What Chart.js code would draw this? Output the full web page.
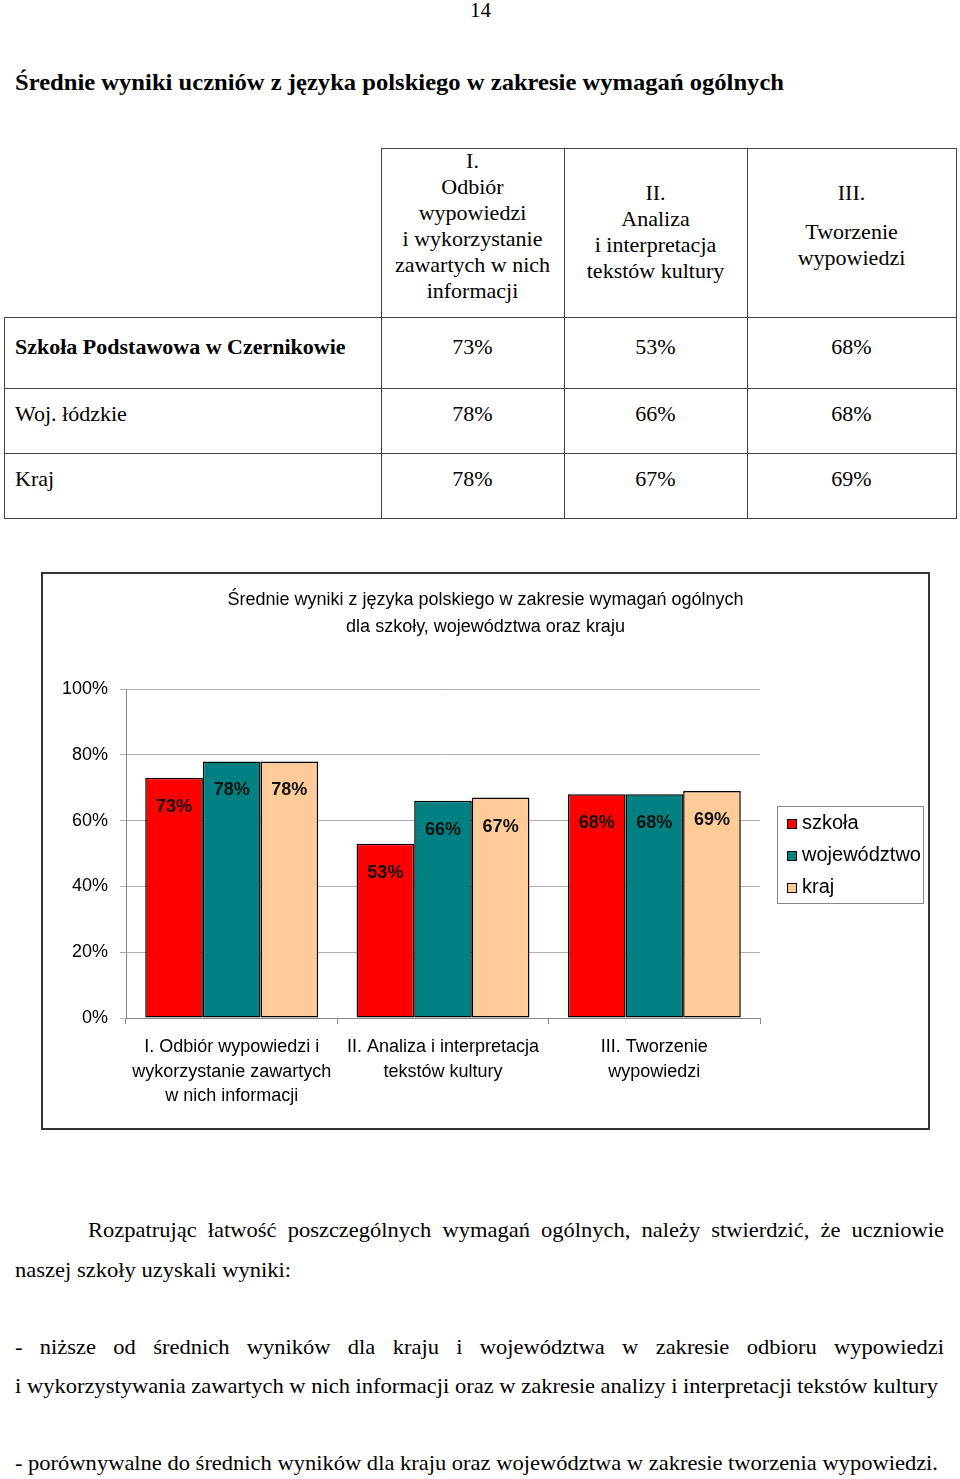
<!DOCTYPE html>
<html lang="pl">
<head>
<meta charset="utf-8">
<title>Średnie wyniki z języka polskiego</title>
<script src="https://cdn.jsdelivr.net/npm/chart.js@4.4.1/dist/chart.umd.min.js"></script>
<style>
  html, body { margin: 0; padding: 0; background: #fff; }
  body { width: 960px; height: 1479px; position: relative; overflow: hidden; color: #000;
         font-family: "Liberation Serif", "Times New Roman", serif; }
  .ln { position: absolute; white-space: nowrap; transform-origin: 0 50%; line-height: 30px; }
  .rule { position: absolute; background: #444; }
  .cell { position: absolute; text-align: center; font-size: 22px; line-height: 26px; white-space: nowrap; }
  #box { position: absolute; left: 41px; top: 572px; width: 889px; height: 558px;
         box-sizing: border-box; border: 2px solid #333; }
  #chart { position: absolute; left: 0; top: 0; }
</style>
</head>
<body>
<div id="box"><canvas id="chart" width="885" height="554"></canvas></div>
<script>
// chart data
const categories = [
  ['I. Odbiór wypowiedzi i', 'wykorzystanie zawartych', 'w nich informacji'],
  ['II. Analiza i interpretacja', 'tekstów kultury'],
  ['III. Tworzenie', 'wypowiedzi']
];
const seriesNames = ['szkoła', 'województwo', 'kraj'];
const szkola = [73, 53, 68];
const wojewodztwo = [78, 66, 68];
const kraj = [78, 67, 69];
const yTicks = [0, 20, 40, 60, 80, 100];
const colors = ['#ff0000', '#008080', '#ffcc99'];

// table text
const rowNames = ['Szkoła Podstawowa w Czernikowie', 'Woj. łódzkie', 'Kraj'];
const headI = ['I.', 'Odbiór', 'wypowiedzi', 'i wykorzystanie', 'zawartych w nich', 'informacji'];
const headII = ['II.', 'Analiza', 'i interpretacja', 'tekstów kultury'];
const headIII = ['III.', 'Tworzenie', 'wypowiedzi'];

const SERIF = '"Liberation Serif", "Times New Roman", serif';
const SANS = '"Liberation Sans", Arial, sans-serif';

const measureCtx = document.createElement('canvas').getContext('2d');
function textWidth(text, font) {
  measureCtx.font = font;
  return measureCtx.measureText(text).width;
}

// squeezed line of text, fitted to a width like the scanned page
function placeLine(text, x, yc, width, font, scale) {
  const d = document.createElement('div');
  d.className = 'ln';
  d.textContent = text;
  d.style.font = font;
  d.style.lineHeight = '30px';
  d.style.left = x + 'px';
  d.style.top = (yc - 15) + 'px';
  const w = textWidth(text, font);
  let s = width / w;
  if (scale) {
    s = scale;
    const gaps = text.split(' ').length - 1;
    d.style.wordSpacing = ((width / s - w) / gaps) + 'px';
  }
  d.style.transform = 'scaleX(' + s + ')';
  document.body.appendChild(d);
}

function rule(x, y, w, h) {
  const d = document.createElement('div');
  d.className = 'rule';
  Object.assign(d.style, { left: x + 'px', top: y + 'px', width: w + 'px', height: h + 'px' });
  document.body.appendChild(d);
}

function cell(text, left, width, yc, bold) {
  const d = document.createElement('div');
  d.className = 'cell';
  d.textContent = text;
  Object.assign(d.style, { left: left + 'px', width: width + 'px', top: (yc - 13) + 'px' });
  if (bold) d.style.fontWeight = 'bold';
  document.body.appendChild(d);
}

// page number and heading
placeLine('14', 470, 10, 21, '22px ' + SERIF);
placeLine('Średnie wyniki uczniów z języka polskiego w zakresie wymagań ogólnych', 15, 82, 769, 'bold 24px ' + SERIF);

// table
const colX = [381, 564, 747, 956];
rule(381, 148, 576, 1);
[317, 388, 453, 518].forEach(y => rule(4, y, 953, 1));
rule(4, 317, 1, 202);
colX.forEach(x => rule(x, 148, 1, 371));

headI.forEach((t, i) => cell(t, 381, 183, 161 + i * 26));
headII.forEach((t, i) => cell(t, 564, 183, 193 + i * 26));
cell(headIII[0], 747, 209, 193);
cell(headIII[1], 747, 209, 232);
cell(headIII[2], 747, 209, 258);

const rowCenters = [347, 414, 479];
[szkola, wojewodztwo, kraj].forEach((vals, r) => {
  const d = document.createElement('div');
  d.className = 'cell';
  d.textContent = rowNames[r];
  Object.assign(d.style, { left: '15px', top: (rowCenters[r] - 13) + 'px', textAlign: 'left' });
  if (r === 0) d.style.fontWeight = 'bold';
  document.body.appendChild(d);
  vals.forEach((v, c) => cell(v + '%', colX[c], colX[c + 1] - colX[c], rowCenters[r]));
});

// body text below the chart
const bodyFont = '22px ' + SERIF;
const last = '- porównywalne do średnich wyników dla kraju oraz województwa w zakresie tworzenia wypowiedzi.';
const squeeze = 923 / textWidth(last, bodyFont);
placeLine('Rozpatrując łatwość poszczególnych wymagań ogólnych, należy stwierdzić, że uczniowie', 88, 1230, 856, bodyFont, squeeze);
placeLine('naszej szkoły uzyskali wyniki:', 15, 1270, 276, bodyFont);
placeLine('- niższe od średnich wyników dla kraju i województwa w zakresie odbioru wypowiedzi', 15, 1347, 929, bodyFont, squeeze);
placeLine('i wykorzystywania zawartych w nich informacji oraz w zakresie analizy i interpretacji tekstów kultury', 15, 1386, 923, bodyFont);
placeLine(last, 15, 1463, 923, bodyFont);

// value labels inside the top of each bar
const valueLabels = {
  id: 'valueLabels',
  afterDatasetsDraw(chart) {
    const ctx = chart.ctx;
    ctx.save();
    ctx.font = 'bold 18px ' + SANS;
    ctx.fillStyle = '#111';
    ctx.textAlign = 'center';
    ctx.textBaseline = 'middle';
    chart.data.datasets.forEach((ds, i) => {
      chart.getDatasetMeta(i).data.forEach((bar, j) => {
        ctx.fillText(ds.data[j] + '%', bar.x, bar.y + 29);
      });
    });
    ctx.restore();
  }
};

// boxed legend at the right of the plot
const boxLegend = {
  id: 'boxLegend',
  afterDraw(chart) {
    const ctx = chart.ctx;
    const a = chart.chartArea;
    const left = a.right + 17;
    const mid = (a.top + a.bottom) / 2 + 1;
    const w = 146, h = 97;
    ctx.save();
    ctx.strokeStyle = '#888';
    ctx.lineWidth = 1;
    ctx.strokeRect(left + 0.5, Math.round(mid - h / 2) + 0.5, w, h);
    ctx.font = '20px ' + SANS;
    ctx.textAlign = 'left';
    ctx.textBaseline = 'middle';
    chart.data.datasets.forEach((ds, i) => {
      const y = Math.round(mid + (i - 1) * 32);
      ctx.fillStyle = ds.backgroundColor;
      ctx.fillRect(left + 10, y - 4, 10, 10);
      ctx.strokeStyle = '#000';
      ctx.strokeRect(left + 10.5, y - 3.5, 9, 9);
      ctx.fillStyle = '#000';
      ctx.fillText(ds.label, left + 25, y);
    });
    ctx.restore();
  }
};

const tickFont = { family: SANS, size: 18, lineHeight: 1.36 };

new Chart(document.getElementById('chart'), {
  type: 'bar',
  data: {
    labels: categories,
    datasets: [
      { label: seriesNames[0], data: szkola, backgroundColor: colors[0] },
      { label: seriesNames[1], data: wojewodztwo, backgroundColor: colors[1] },
      { label: seriesNames[2], data: kraj, backgroundColor: colors[2] }
    ]
  },
  options: {
    responsive: false,
    animation: false,
    layout: { padding: 0 },
    datasets: {
      bar: { categoryPercentage: 0.818, barPercentage: 1, borderColor: '#000', borderWidth: 1.5, borderSkipped: false }
    },
    plugins: {
      legend: { display: false },
      tooltip: { enabled: false },
      title: {
        display: true,
        text: ['Średnie wyniki z języka polskiego w zakresie wymagań ogólnych', 'dla szkoły, województwa oraz kraju'],
        color: '#000',
        font: { family: SANS, size: 18, weight: 'normal', lineHeight: 1.5 },
        padding: { top: 13, bottom: 48 }
      }
    },
    scales: {
      x: {
        grid: { drawOnChartArea: false, color: '#888', tickLength: 6 },
        border: { color: '#888' },
        ticks: { color: '#000', font: tickFont, padding: 11, maxRotation: 0, autoSkip: false },
        afterFit(s) { s.height = 110; }
      },
      y: {
        min: yTicks[0],
        max: yTicks[yTicks.length - 1],
        grid: { color: '#b0b0b0', tickLength: 6 },
        border: { color: '#888' },
        ticks: { stepSize: yTicks[1] - yTicks[0], callback: v => v + '%', color: '#000', font: tickFont, padding: 12 },
        afterFit(s) { s.width = 83; }
      },
      // empty right-hand axis that keeps room for the legend box
      room: {
        position: 'right',
        grid: { display: false },
        border: { display: false },
        ticks: { display: false },
        afterFit(s) { s.width = 168; }
      }
    }
  },
  plugins: [valueLabels, boxLegend]
});
</script>
</body>
</html>
